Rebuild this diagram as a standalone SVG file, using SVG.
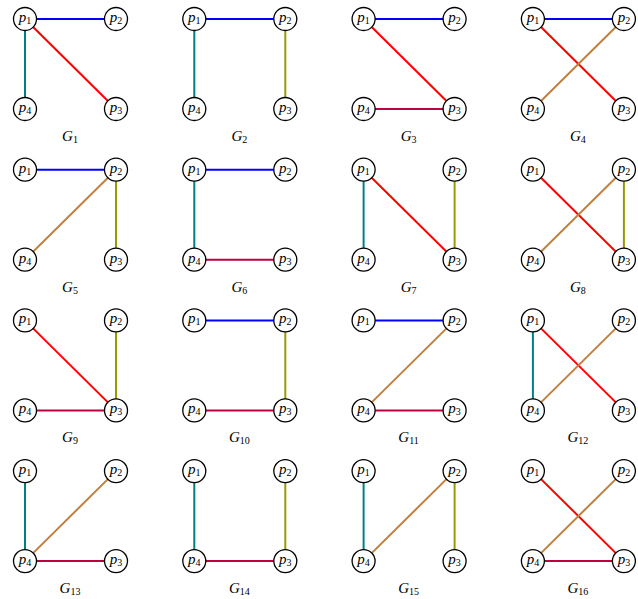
<svg xmlns="http://www.w3.org/2000/svg" xmlns:xlink="http://www.w3.org/1999/xlink" width="638" height="599" viewBox="0 0 638 599">
<style>
.e{stroke-width:2;fill:none}
.b{stroke:#0000ff}.t{stroke:#008080}.r{stroke:#ff0000}.o{stroke:#999900}.w{stroke:#bf8040}.m{stroke:#bf0040}
.n circle{fill:#fff;stroke:#000;stroke-width:1.3}
.n text{font-family:"Liberation Serif",serif;font-size:15px;text-anchor:middle}
.lab{font-family:"Liberation Serif",serif;font-size:15px;text-anchor:middle}
.i{font-style:italic}
.s{font-size:10px}
</style>
<defs>
<g id="n1" class="n"><circle r="11.5"/><text x="0" y="3"><tspan class="i">p</tspan><tspan class="s" dy="2">1</tspan></text></g>
<g id="n2" class="n"><circle r="11.5"/><text x="0" y="3"><tspan class="i">p</tspan><tspan class="s" dy="2">2</tspan></text></g>
<g id="n3" class="n"><circle r="11.5"/><text x="0" y="3"><tspan class="i">p</tspan><tspan class="s" dy="2">3</tspan></text></g>
<g id="n4" class="n"><circle r="11.5"/><text x="0" y="3"><tspan class="i">p</tspan><tspan class="s" dy="2">4</tspan></text></g>
<line id="e12" x1="0" y1="0" x2="91" y2="0"/>
<line id="e14" x1="0" y1="0" x2="0" y2="90"/>
<line id="e13" x1="0" y1="0" x2="91" y2="90"/>
<line id="e23" x1="91" y1="0" x2="91" y2="90"/>
<line id="e24" x1="91" y1="0" x2="0" y2="90"/>
<line id="e43" x1="0" y1="90" x2="91" y2="90"/>
</defs>

<g id="G1" transform="translate(25,19)">
<g id="G1-edges"><use href="#e12" class="e b"/><use href="#e14" class="e t"/><use href="#e13" class="e r"/></g>
<g id="G1-p1"><use href="#n1"/></g><g id="G1-p2"><use href="#n2" x="91"/></g><g id="G1-p3"><use href="#n3" x="91" y="90"/></g><g id="G1-p4"><use href="#n4" y="90"/></g>
<text class="lab" x="45" y="122"><tspan class="i">G</tspan><tspan class="s" dy="2">1</tspan></text>
</g>

<g id="G2" transform="translate(194.3,19)">
<g id="G2-edges"><use href="#e12" class="e b"/><use href="#e14" class="e t"/><use href="#e23" class="e o"/></g>
<g id="G2-p1"><use href="#n1"/></g><g id="G2-p2"><use href="#n2" x="91"/></g><g id="G2-p3"><use href="#n3" x="91" y="90"/></g><g id="G2-p4"><use href="#n4" y="90"/></g>
<text class="lab" x="45" y="122"><tspan class="i">G</tspan><tspan class="s" dy="2">2</tspan></text>
</g>

<g id="G3" transform="translate(363.6,19)">
<g id="G3-edges"><use href="#e12" class="e b"/><use href="#e13" class="e r"/><use href="#e43" class="e m"/></g>
<g id="G3-p1"><use href="#n1"/></g><g id="G3-p2"><use href="#n2" x="91"/></g><g id="G3-p3"><use href="#n3" x="91" y="90"/></g><g id="G3-p4"><use href="#n4" y="90"/></g>
<text class="lab" x="45" y="122"><tspan class="i">G</tspan><tspan class="s" dy="2">3</tspan></text>
</g>

<g id="G4" transform="translate(532.9,19)">
<g id="G4-edges"><use href="#e12" class="e b"/><use href="#e13" class="e r"/><use href="#e24" class="e w"/></g>
<g id="G4-p1"><use href="#n1"/></g><g id="G4-p2"><use href="#n2" x="91"/></g><g id="G4-p3"><use href="#n3" x="91" y="90"/></g><g id="G4-p4"><use href="#n4" y="90"/></g>
<text class="lab" x="45" y="122"><tspan class="i">G</tspan><tspan class="s" dy="2">4</tspan></text>
</g>

<g id="G5" transform="translate(25,169.7)">
<g id="G5-edges"><use href="#e12" class="e b"/><use href="#e24" class="e w"/><use href="#e23" class="e o"/></g>
<g id="G5-p1"><use href="#n1"/></g><g id="G5-p2"><use href="#n2" x="91"/></g><g id="G5-p3"><use href="#n3" x="91" y="90"/></g><g id="G5-p4"><use href="#n4" y="90"/></g>
<text class="lab" x="45" y="122"><tspan class="i">G</tspan><tspan class="s" dy="2">5</tspan></text>
</g>

<g id="G6" transform="translate(194.3,169.7)">
<g id="G6-edges"><use href="#e12" class="e b"/><use href="#e14" class="e t"/><use href="#e43" class="e m"/></g>
<g id="G6-p1"><use href="#n1"/></g><g id="G6-p2"><use href="#n2" x="91"/></g><g id="G6-p3"><use href="#n3" x="91" y="90"/></g><g id="G6-p4"><use href="#n4" y="90"/></g>
<text class="lab" x="45" y="122"><tspan class="i">G</tspan><tspan class="s" dy="2">6</tspan></text>
</g>

<g id="G7" transform="translate(363.6,169.7)">
<g id="G7-edges"><use href="#e14" class="e t"/><use href="#e13" class="e r"/><use href="#e23" class="e o"/></g>
<g id="G7-p1"><use href="#n1"/></g><g id="G7-p2"><use href="#n2" x="91"/></g><g id="G7-p3"><use href="#n3" x="91" y="90"/></g><g id="G7-p4"><use href="#n4" y="90"/></g>
<text class="lab" x="45" y="122"><tspan class="i">G</tspan><tspan class="s" dy="2">7</tspan></text>
</g>

<g id="G8" transform="translate(532.9,169.7)">
<g id="G8-edges"><use href="#e13" class="e r"/><use href="#e24" class="e w"/><use href="#e23" class="e o"/></g>
<g id="G8-p1"><use href="#n1"/></g><g id="G8-p2"><use href="#n2" x="91"/></g><g id="G8-p3"><use href="#n3" x="91" y="90"/></g><g id="G8-p4"><use href="#n4" y="90"/></g>
<text class="lab" x="45" y="122"><tspan class="i">G</tspan><tspan class="s" dy="2">8</tspan></text>
</g>

<g id="G9" transform="translate(25,320.4)">
<g id="G9-edges"><use href="#e13" class="e r"/><use href="#e23" class="e o"/><use href="#e43" class="e m"/></g>
<g id="G9-p1"><use href="#n1"/></g><g id="G9-p2"><use href="#n2" x="91"/></g><g id="G9-p3"><use href="#n3" x="91" y="90"/></g><g id="G9-p4"><use href="#n4" y="90"/></g>
<text class="lab" x="45" y="122"><tspan class="i">G</tspan><tspan class="s" dy="2">9</tspan></text>
</g>

<g id="G10" transform="translate(194.3,320.4)">
<g id="G10-edges"><use href="#e12" class="e b"/><use href="#e23" class="e o"/><use href="#e43" class="e m"/></g>
<g id="G10-p1"><use href="#n1"/></g><g id="G10-p2"><use href="#n2" x="91"/></g><g id="G10-p3"><use href="#n3" x="91" y="90"/></g><g id="G10-p4"><use href="#n4" y="90"/></g>
<text class="lab" x="45" y="122"><tspan class="i">G</tspan><tspan class="s" dy="2">10</tspan></text>
</g>

<g id="G11" transform="translate(363.6,320.4)">
<g id="G11-edges"><use href="#e12" class="e b"/><use href="#e24" class="e w"/><use href="#e43" class="e m"/></g>
<g id="G11-p1"><use href="#n1"/></g><g id="G11-p2"><use href="#n2" x="91"/></g><g id="G11-p3"><use href="#n3" x="91" y="90"/></g><g id="G11-p4"><use href="#n4" y="90"/></g>
<text class="lab" x="45" y="122"><tspan class="i">G</tspan><tspan class="s" dy="2">11</tspan></text>
</g>

<g id="G12" transform="translate(532.9,320.4)">
<g id="G12-edges"><use href="#e14" class="e t"/><use href="#e13" class="e r"/><use href="#e24" class="e w"/></g>
<g id="G12-p1"><use href="#n1"/></g><g id="G12-p2"><use href="#n2" x="91"/></g><g id="G12-p3"><use href="#n3" x="91" y="90"/></g><g id="G12-p4"><use href="#n4" y="90"/></g>
<text class="lab" x="45" y="122"><tspan class="i">G</tspan><tspan class="s" dy="2">12</tspan></text>
</g>

<g id="G13" transform="translate(25,471.1)">
<g id="G13-edges"><use href="#e14" class="e t"/><use href="#e24" class="e w"/><use href="#e43" class="e m"/></g>
<g id="G13-p1"><use href="#n1"/></g><g id="G13-p2"><use href="#n2" x="91"/></g><g id="G13-p3"><use href="#n3" x="91" y="90"/></g><g id="G13-p4"><use href="#n4" y="90"/></g>
<text class="lab" x="45" y="122"><tspan class="i">G</tspan><tspan class="s" dy="2">13</tspan></text>
</g>

<g id="G14" transform="translate(194.3,471.1)">
<g id="G14-edges"><use href="#e14" class="e t"/><use href="#e23" class="e o"/><use href="#e43" class="e m"/></g>
<g id="G14-p1"><use href="#n1"/></g><g id="G14-p2"><use href="#n2" x="91"/></g><g id="G14-p3"><use href="#n3" x="91" y="90"/></g><g id="G14-p4"><use href="#n4" y="90"/></g>
<text class="lab" x="45" y="122"><tspan class="i">G</tspan><tspan class="s" dy="2">14</tspan></text>
</g>

<g id="G15" transform="translate(363.6,471.1)">
<g id="G15-edges"><use href="#e14" class="e t"/><use href="#e24" class="e w"/><use href="#e23" class="e o"/></g>
<g id="G15-p1"><use href="#n1"/></g><g id="G15-p2"><use href="#n2" x="91"/></g><g id="G15-p3"><use href="#n3" x="91" y="90"/></g><g id="G15-p4"><use href="#n4" y="90"/></g>
<text class="lab" x="45" y="122"><tspan class="i">G</tspan><tspan class="s" dy="2">15</tspan></text>
</g>

<g id="G16" transform="translate(532.9,471.1)">
<g id="G16-edges"><use href="#e13" class="e r"/><use href="#e24" class="e w"/><use href="#e43" class="e m"/></g>
<g id="G16-p1"><use href="#n1"/></g><g id="G16-p2"><use href="#n2" x="91"/></g><g id="G16-p3"><use href="#n3" x="91" y="90"/></g><g id="G16-p4"><use href="#n4" y="90"/></g>
<text class="lab" x="45" y="122"><tspan class="i">G</tspan><tspan class="s" dy="2">16</tspan></text>
</g>
</svg>
